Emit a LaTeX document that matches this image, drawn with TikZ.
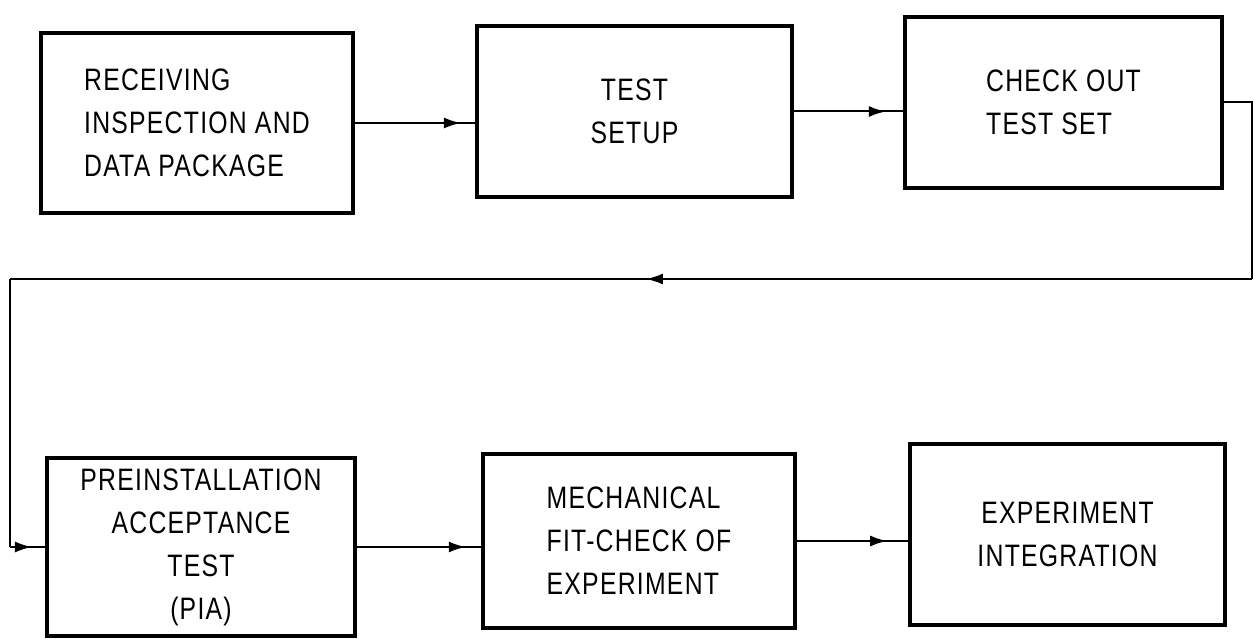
\documentclass[tikz,border=0pt]{standalone}
\usepackage{fontspec}
\setmainfont{Liberation Sans}[FakeStretch=0.8,LetterSpace=4]
\usetikzlibrary{arrows.meta,decorations.markings}
\tikzset{
  box/.style={draw, line width=3.2pt, inner sep=0pt, font=\fontsize{31}{43}\selectfont},
  conn/.style={line width=2pt},
  midtip/.style={postaction={decorate}, decoration={markings,
     mark=at position #1 with {\arrow{Latex[length=17pt,width=11pt]}}}}
}
\begin{document}
\begin{tikzpicture}[x=1pt,y=-1pt]
\useasboundingbox (0,0) rectangle (1254,639);
% top row
\node[box, minimum width=312pt, minimum height=180pt, align=left] (b1) at (197,123)
  {RECEIVING\\INSPECTION AND\\DATA PACKAGE};
\node[box, minimum width=315pt, minimum height=171pt, align=center] (b2) at (634.5,111.5)
  {TEST\\SETUP};
\node[box, minimum width=317pt, minimum height=171pt, align=left] (b3) at (1063.5,102.5)
  {CHECK OUT\\TEST SET};
% bottom row
\node[box, minimum width=308pt, minimum height=178pt, align=center] (b4) at (201,547)
  {PREINSTALLATION\\ACCEPTANCE\\TEST\\(PIA)};
\node[box, minimum width=312pt, minimum height=174pt, align=left] (b5) at (639,541)
  {MECHANICAL\\FIT-CHECK OF\\EXPERIMENT};
\node[box, minimum width=315pt, minimum height=181pt, align=center] (b6) at (1067.5,534.5)
  {EXPERIMENT\\INTEGRATION};
% connectors
\draw[conn, midtip=0.88] (b1.east) -- (b2.west |- b1.east);
\draw[conn, midtip=0.84] (b2.east) -- (b3.west |- b2.east);
\draw[conn, midtip=0.875] (b4.east) -- (b5.west |- b4.east);
\draw[conn, midtip=0.81] (b5.east) -- (b6.west |- b5.east);
% feedback loop
\coordinate (rt) at (1252,279);
\coordinate (lt) at (10,279);
\coordinate (lb) at (10,547);
\draw[conn] (b3.east) -| (rt);
\draw[conn, midtip=0.488] (rt) -- (lt);
\draw[conn] (lt) -- (lb);
\draw[conn, midtip=0.62] (lb) -- (b4.west);
\end{tikzpicture}
\end{document}
